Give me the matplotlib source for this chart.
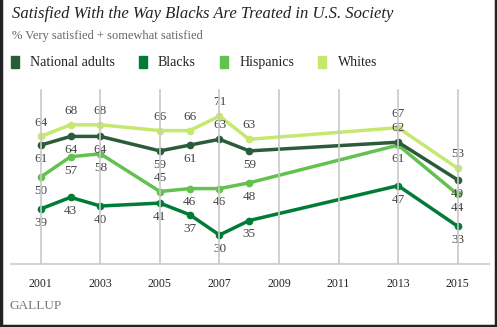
import matplotlib
matplotlib.use('Agg')
import matplotlib.pyplot as plt
from matplotlib.lines import Line2D
from matplotlib.patches import Rectangle

years = [2001, 2002, 2003, 2005, 2006, 2007, 2008, 2013, 2015]
national = [61, 64, 64, 59, 61, 63, 59, 62, 49]
blacks = [39, 43, 40, 41, 37, 30, 35, 47, 33]
hispanics = [50, 57, 58, 45, 46, 46, 48, 61, 44]
whites = [64, 68, 68, 66, 66, 71, 63, 67, 53]
tick_years = [2001, 2003, 2005, 2007, 2009, 2011, 2013, 2015]

# label above (1) or below (-1) each point
national_pos = [-1, -1, -1, -1, -1, 1, -1, 1, -1]
blacks_pos = [-1] * 9
hispanics_pos = [-1, -1, -1, 1, -1, -1, -1, -1, -1]
whites_pos = [1] * 9

series = [
    ('Whites', whites, whites_pos, '#c6e86e'),
    ('Hispanics', hispanics, hispanics_pos, '#63c150'),
    ('Blacks', blacks, blacks_pos, '#007c36'),
    ('National adults', national, national_pos, '#2b5c3a'),
]

plt.rcParams['font.family'] = ['Liberation Serif', 'DejaVu Serif']
W, H = 497, 327
fig = plt.figure(figsize=(W / 100, H / 100), dpi=100)
ax = fig.add_axes([11 / W, 1 - 264 / H, (489 - 11) / W, (264 - 90) / H])
ax.patch.set_alpha(0)

ax.set_xlim(2000.0, 2016.05)
ax.set_ylim(20, 80)
# vertical gridlines drawn at figure level, behind the axes
for x in tick_years:
    gl = Line2D([x, x], [20, 80], color='#c8c8c8', lw=1.2, transform=ax.transData, zorder=0.5)
    gl.set_clip_on(False)
    fig.add_artist(gl)

for name, vals, pos, col in series:
    ax.plot(years, vals, color=col, lw=2.5, marker='o', ms=4.5, solid_capstyle='round', zorder=3)
    for x, v, p in zip(years, vals, pos):
        ax.annotate(str(v), (x, v), xytext=(0, 10 * p), textcoords='offset points',
                    ha='center', va='center', fontsize=9.5, color='#444444', zorder=4)

ax.set_yticks([])
ax.set_xticks(tick_years)
ax.set_xticklabels([str(y) for y in tick_years], fontsize=8.5, color='#222222')
ax.tick_params(axis='x', length=0, pad=10)
for s in ['top', 'left', 'right']:
    ax.spines[s].set_visible(False)
ax.spines['bottom'].set_color('#d3d3cf')
ax.spines['bottom'].set_linewidth(1.5)

fig.text(12 / W, 1 - 14 / H, 'Satisfied With the Way Blacks Are Treated in U.S. Society',
         fontsize=12, style='italic', va='center', color='#222222')
fig.text(12 / W, 1 - 36 / H, '% Very satisfied + somewhat satisfied',
         fontsize=9, va='center', color='#666666')

legend_items = [('National adults', '#2b5c3a', 11, 30),
                ('Blacks', '#007c36', 139, 158),
                ('Hispanics', '#63c150', 220, 240),
                ('Whites', '#c6e86e', 318, 338)]
for name, col, sx, tx in legend_items:
    fig.add_artist(Rectangle((sx / W, 1 - 68 / H), 8 / W, 12 / H, color=col,
                             transform=fig.transFigure))
    fig.text(tx / W, 1 - 66 / H, name, fontsize=10, va='baseline', color='#222222')

fig.text(10 / W, 1 - 306 / H, 'GALLUP', fontsize=9.5, va='center', color='#777777')

# dark frame on left, right and bottom
for xs, ys in [([0.5 / W, 0.5 / W], [0, 1]), ([1 - 1.5 / W, 1 - 1.5 / W], [0, 1]),
               ([0, 1], [1 / H, 1 / H])]:
    fig.add_artist(Line2D(xs, ys, color='#222222', lw=2.5, transform=fig.transFigure))

fig.savefig('out.png', dpi=100)
